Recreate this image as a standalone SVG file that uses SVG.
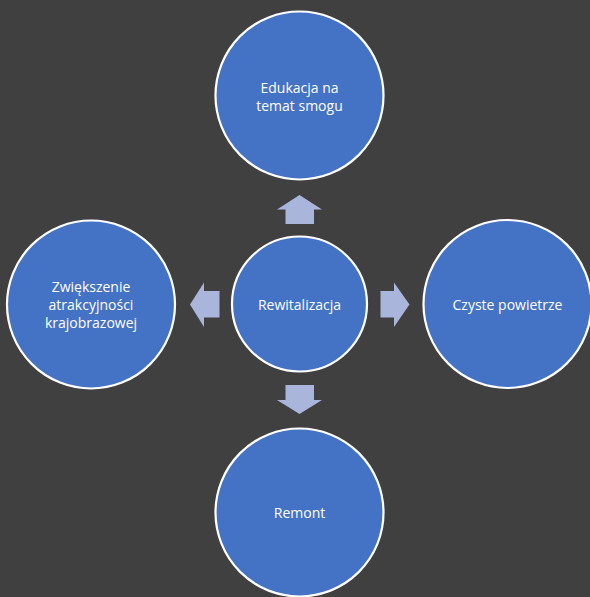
<svg xmlns="http://www.w3.org/2000/svg" width="590" height="597" viewBox="0 0 590 597">
<style>
.bg{fill:#404040}
.c{fill:#4472C4;stroke:#FFFFFF;stroke-width:2.2}
.a{fill:#A9B5DB}
text{font-family:"Open Sans","Liberation Sans",sans-serif;font-size:14px;fill:#FFFFFF;text-anchor:middle}
</style>
<rect class="bg" x="0" y="0" width="590" height="597"/>
<g id="connectors">
<polygon class="a" points="299.5,195 322,209.5 314,209.5 314,224 285.5,224 285.5,209.5 277,209.5"/>
<polygon class="a" points="299.5,414 322,400 314,400 314,385 285.5,385 285.5,400 277,400"/>
<polygon class="a" points="190,304.5 204,282.5 204,291 219.5,291 219.5,317.5 204,317.5 204,327"/>
<polygon class="a" points="409.5,304.5 394,282.5 394,291 380.5,291 380.5,317.5 394,317.5 394,327"/>
</g>
<g id="center">
<circle class="c" cx="299.5" cy="304" r="67.5"/>
<text x="299.5" y="310">Rewitalizacja</text>
</g>
<g id="top">
<circle class="c" cx="299.5" cy="95.5" r="84"/>
<text x="299.5" y="93">Edukacja na</text>
<text x="299.5" y="111">temat smogu</text>
</g>
<g id="left">
<circle class="c" cx="91" cy="304.5" r="84"/>
<text x="91" y="292">Zwiększenie</text>
<text x="91" y="310">atrakcyjności</text>
<text x="91" y="328">krajobrazowej</text>
</g>
<g id="right">
<circle class="c" cx="507.5" cy="304" r="84"/>
<text x="507.5" y="310">Czyste powietrze</text>
</g>
<g id="bottom">
<circle class="c" cx="299.5" cy="512.5" r="84"/>
<text x="299.5" y="518">Remont</text>
</g>
</svg>
